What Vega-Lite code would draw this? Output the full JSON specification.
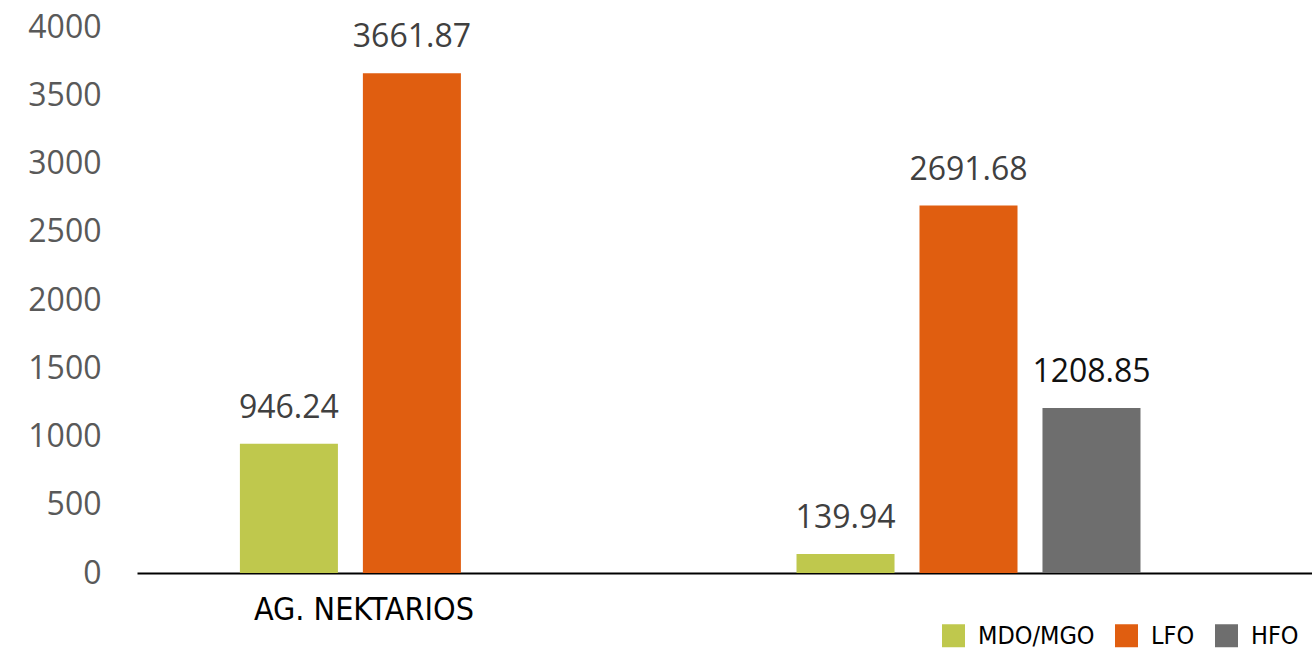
{
  "$schema": "https://vega.github.io/schema/vega-lite/v6.json",
  "width": 1175,
  "height": 546,
  "autosize": {"type": "none"},
  "padding": {"left": 137, "top": 27, "right": 0, "bottom": 84},
  "background": "white",
  "config": {"view": {"stroke": null}, "font": "Open Sans"},
  "data": {
    "values": [
      {"group": "AG. NEKTARIOS", "fuel": "MDO/MGO", "value": 946.24},
      {"group": "AG. NEKTARIOS", "fuel": "LFO", "value": 3661.87},
      {"group": "second", "fuel": "MDO/MGO", "value": 139.94},
      {"group": "second", "fuel": "LFO", "value": 2691.68},
      {"group": "second", "fuel": "HFO", "value": 1208.85}
    ]
  },
  "encoding": {
    "x": {
      "field": "group",
      "type": "nominal",
      "sort": ["AG. NEKTARIOS", "second"],
      "scale": {"paddingInner": 0.382, "paddingOuter": 0.2465, "align": 0.375},
      "axis": {
        "title": null,
        "labelExpr": "datum.value == 'AG. NEKTARIOS' ? datum.value : ''",
        "labelAngle": 0,
        "labelFont": "DejaVu Sans Condensed, DejaVu Sans",
        "labelFontSize": 32,
        "labelColor": "#000000",
        "labelPadding": 21,
        "labelOffset": -48,
        "labelLimit": 500,
        "ticks": false,
        "domainColor": "#000000",
        "domainWidth": 2,
        "grid": false
      }
    },
    "xOffset": {
      "field": "fuel",
      "type": "nominal",
      "scale": {"domain": ["MDO/MGO", "LFO", "HFO"], "paddingInner": 0.203, "paddingOuter": 0}
    },
    "y": {
      "field": "value",
      "type": "quantitative",
      "scale": {"domain": [0, 4000]},
      "axis": {
        "title": null,
        "values": [0, 500, 1000, 1500, 2000, 2500, 3000, 3500, 4000],
        "format": "d",
        "grid": false,
        "domain": false,
        "ticks": false,
        "labelFont": "Open Sans",
        "labelFontSize": 32,
        "labelColor": "#595959",
        "labelPadding": 36
      }
    }
  },
  "layer": [
    {
      "mark": {"type": "bar"},
      "encoding": {
        "color": {
          "field": "fuel",
          "type": "nominal",
          "scale": {"domain": ["MDO/MGO", "LFO", "HFO"], "range": ["#BFC84D", "#E05E10", "#6E6E6E"]},
          "legend": {
            "title": null,
            "orient": "none",
            "direction": "horizontal",
            "legendX": 804,
            "legendY": 596,
            "symbolType": "square",
            "symbolSize": 529,
            "symbolStrokeWidth": 0,
            "labelFont": "DejaVu Sans Condensed, DejaVu Sans",
            "labelFontSize": 25,
            "labelColor": "#000000",
            "labelOffset": 12,
            "columnPadding": 19,
            "labelLimit": 300
          }
        }
      }
    },
    {
      "mark": {"type": "text", "baseline": "alphabetic", "dy": -26, "fontSize": 32, "font": "Open Sans"},
      "encoding": {
        "text": {"field": "value", "type": "quantitative", "format": ".2f"},
        "color": {"condition": {"test": "datum.fuel == 'HFO'", "value": "#111111"}, "value": "#404040"}
      }
    }
  ]
}
